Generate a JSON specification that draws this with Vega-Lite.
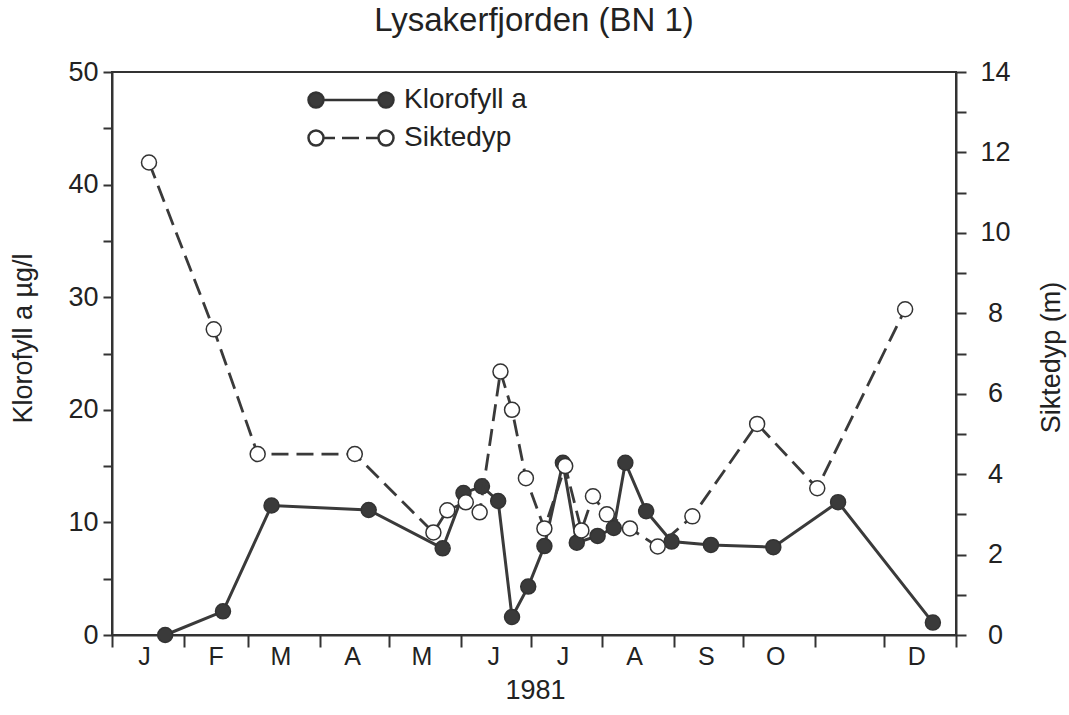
{
  "$schema": "https://vega.github.io/schema/vega-lite/v6.json",
  "autosize": "none",
  "width": 844,
  "height": 563,
  "padding": {"left": 112, "top": 72, "right": 113, "bottom": 80},
  "background": "white",
  "title": {"text": "Lysakerfjorden (BN 1)", "fontSize": 33, "fontWeight": "normal", "color": "#222", "offset": 20, "anchor": "middle"},
  "config": {
    "font": "Liberation Sans",
    "view": {"stroke": "#333", "strokeWidth": 2},
    "axis": {"grid": false, "domainColor": "#333", "domainWidth": 2, "tickColor": "#333", "tickWidth": 2, "labelColor": "#222", "labelFontSize": 27, "titleColor": "#222", "titleFontSize": 27, "titleFontWeight": "normal"}
  },
  "data": {"values": [
    {"date": "1981-01-24", "series": "Klorofyll a", "value": 0.0},
    {"date": "1981-02-18", "series": "Klorofyll a", "value": 2.1},
    {"date": "1981-03-11", "series": "Klorofyll a", "value": 11.5},
    {"date": "1981-04-22", "series": "Klorofyll a", "value": 11.1},
    {"date": "1981-05-24", "series": "Klorofyll a", "value": 7.7},
    {"date": "1981-06-02", "series": "Klorofyll a", "value": 12.6},
    {"date": "1981-06-10", "series": "Klorofyll a", "value": 13.2},
    {"date": "1981-06-17", "series": "Klorofyll a", "value": 11.9},
    {"date": "1981-06-23", "series": "Klorofyll a", "value": 1.6},
    {"date": "1981-06-30", "series": "Klorofyll a", "value": 4.3},
    {"date": "1981-07-07", "series": "Klorofyll a", "value": 7.9},
    {"date": "1981-07-15", "series": "Klorofyll a", "value": 15.3},
    {"date": "1981-07-21", "series": "Klorofyll a", "value": 8.2},
    {"date": "1981-07-30", "series": "Klorofyll a", "value": 8.8},
    {"date": "1981-08-06", "series": "Klorofyll a", "value": 9.5},
    {"date": "1981-08-11", "series": "Klorofyll a", "value": 15.3},
    {"date": "1981-08-20", "series": "Klorofyll a", "value": 11.0},
    {"date": "1981-08-31", "series": "Klorofyll a", "value": 8.3},
    {"date": "1981-09-17", "series": "Klorofyll a", "value": 8.0},
    {"date": "1981-10-14", "series": "Klorofyll a", "value": 7.8},
    {"date": "1981-11-11", "series": "Klorofyll a", "value": 11.8},
    {"date": "1981-12-22", "series": "Klorofyll a", "value": 1.1},
    {"date": "1981-01-17", "series": "Siktedyp", "value": 11.75},
    {"date": "1981-02-14", "series": "Siktedyp", "value": 7.6},
    {"date": "1981-03-05", "series": "Siktedyp", "value": 4.5},
    {"date": "1981-04-16", "series": "Siktedyp", "value": 4.5},
    {"date": "1981-05-20", "series": "Siktedyp", "value": 2.55},
    {"date": "1981-05-26", "series": "Siktedyp", "value": 3.1},
    {"date": "1981-06-03", "series": "Siktedyp", "value": 3.3},
    {"date": "1981-06-09", "series": "Siktedyp", "value": 3.05},
    {"date": "1981-06-18", "series": "Siktedyp", "value": 6.55},
    {"date": "1981-06-23", "series": "Siktedyp", "value": 5.6},
    {"date": "1981-06-29", "series": "Siktedyp", "value": 3.9},
    {"date": "1981-07-07", "series": "Siktedyp", "value": 2.65},
    {"date": "1981-07-16", "series": "Siktedyp", "value": 4.2},
    {"date": "1981-07-23", "series": "Siktedyp", "value": 2.6},
    {"date": "1981-07-28", "series": "Siktedyp", "value": 3.45},
    {"date": "1981-08-03", "series": "Siktedyp", "value": 3.0},
    {"date": "1981-08-13", "series": "Siktedyp", "value": 2.65},
    {"date": "1981-08-25", "series": "Siktedyp", "value": 2.2},
    {"date": "1981-09-09", "series": "Siktedyp", "value": 2.95},
    {"date": "1981-10-07", "series": "Siktedyp", "value": 5.25},
    {"date": "1981-11-02", "series": "Siktedyp", "value": 3.65},
    {"date": "1981-12-10", "series": "Siktedyp", "value": 8.1}
  ]},
  "encoding": {
    "x": {
      "field": "date", "type": "temporal",
      "scale": {"type": "utc", "domain": [{"year": 1981, "month": 1, "date": 1, "utc": true}, {"year": 1982, "month": 1, "date": 1, "utc": true}]},
      "axis": {
        "values": [
          {"year": 1981, "month": 1, "date": 1, "utc": true},
          {"year": 1981, "month": 2, "date": 1, "utc": true},
          {"year": 1981, "month": 3, "date": 1, "utc": true},
          {"year": 1981, "month": 4, "date": 1, "utc": true},
          {"year": 1981, "month": 5, "date": 1, "utc": true},
          {"year": 1981, "month": 6, "date": 1, "utc": true},
          {"year": 1981, "month": 7, "date": 1, "utc": true},
          {"year": 1981, "month": 8, "date": 1, "utc": true},
          {"year": 1981, "month": 9, "date": 1, "utc": true},
          {"year": 1981, "month": 10, "date": 1, "utc": true},
          {"year": 1981, "month": 11, "date": 1, "utc": true},
          {"year": 1981, "month": 12, "date": 1, "utc": true},
          {"year": 1982, "month": 1, "date": 1, "utc": true}
        ],
        "labelExpr": "utcyear(datum.value) > 1981 ? '' : ['J','F','M','A','M','J','J','A','S','O','','D'][utcmonth(datum.value)]",
        "labelOffset": 32, "labelOverlap": false, "labelBound": false, "labelFlush": false,
        "tickSize": 12, "labelPadding": -3, "labelFontSize": 25,
        "title": "1981", "titleX": 423, "titleY": 55, "titleBaseline": "middle", "titleFontSize": 27
      }
    }
  },
  "layer": [
    {
      "transform": [{"filter": "datum.series === 'Klorofyll a'"}],
      "encoding": {
        "y": {"field": "value", "type": "quantitative", "scale": {"domain": [0, 50], "nice": false},
          "axis": {"orient": "left", "values": [0, 5, 10, 15, 20, 25, 30, 35, 40, 45, 50], "labelExpr": "datum.value % 10 === 0 ? datum.label : ''", "tickSize": 9, "labelPadding": 5, "title": "Klorofyll a µg/l", "titleX": -89, "titleY": 266, "titleBaseline": "middle", "titleAngle": 270}}
      },
      "layer": [
        {"mark": {"type": "line", "stroke": "#3a3a3a", "strokeWidth": 3}},
        {"mark": {"type": "circle", "size": 225, "opacity": 1, "fill": "#3a3a3a", "stroke": "#333", "strokeWidth": 1.5}},
        {"mark": {"type": "point", "filled": true, "size": 400, "opacity": 0, "strokeWidth": 2.5},
          "encoding": {
            "shape": {"field": "series", "type": "nominal",
              "scale": {"domain": ["Klorofyll a", "Siktedyp"], "range": [
                "M0.75,0C0.75,0.414,0.414,0.75,0,0.75C-0.414,0.75,-0.75,0.414,-0.75,0C-0.75,-0.414,-0.414,-0.75,0,-0.75C0.414,-0.75,0.75,-0.414,0.75,0ZM7.75,0C7.75,0.414,7.414,0.75,7,0.75C6.586,0.75,6.25,0.414,6.25,0C6.25,-0.414,6.586,-0.75,7,-0.75C7.414,-0.75,7.75,-0.414,7.75,0ZM0.75,0L6.25,0",
                "M0.75,0C0.75,0.414,0.414,0.75,0,0.75C-0.414,0.75,-0.75,0.414,-0.75,0C-0.75,-0.414,-0.414,-0.75,0,-0.75C0.414,-0.75,0.75,-0.414,0.75,0ZM7.75,0C7.75,0.414,7.414,0.75,7,0.75C6.586,0.75,6.25,0.414,6.25,0C6.25,-0.414,6.586,-0.75,7,-0.75C7.414,-0.75,7.75,-0.414,7.75,0ZM0.75,0L1.9,0M2.6,0L4.3,0M5,0L6.25,0"
              ]},
              "legend": {"orient": "none", "legendX": 190, "legendY": 14, "title": null, "padding": 0, "labelFontSize": 28, "labelColor": "#222", "labelOffset": 74, "rowPadding": 10, "symbolSize": 400, "symbolOpacity": 1, "symbolStrokeWidth": 2.5}},
            "fill": {"field": "series", "type": "nominal",
              "scale": {"domain": ["Klorofyll a", "Siktedyp"], "range": ["#3a3a3a", "white"]},
              "legend": {"orient": "none", "legendX": 190, "legendY": 14, "title": null, "padding": 0, "labelFontSize": 28, "labelColor": "#222", "labelOffset": 74, "rowPadding": 10, "symbolSize": 400, "symbolOpacity": 1, "symbolStrokeWidth": 2.5}},
            "stroke": {"field": "series", "type": "nominal",
              "scale": {"domain": ["Klorofyll a", "Siktedyp"], "range": ["#333333", "#333333"]},
              "legend": {"orient": "none", "legendX": 190, "legendY": 14, "title": null, "padding": 0, "labelFontSize": 28, "labelColor": "#222", "labelOffset": 74, "rowPadding": 10, "symbolSize": 400, "symbolOpacity": 1, "symbolStrokeWidth": 2.5}}
          }}
      ]
    },
    {
      "transform": [{"filter": "datum.series === 'Siktedyp'"}],
      "encoding": {
        "y": {"field": "value", "type": "quantitative", "scale": {"domain": [0, 14], "nice": false},
          "axis": {"orient": "right", "values": [0, 1, 2, 3, 4, 5, 6, 7, 8, 9, 10, 11, 12, 13, 14], "labelExpr": "datum.value % 2 === 0 ? datum.label : ''", "tickSize": 10, "labelPadding": 29, "labelAlign": "center", "title": "Siktedyp (m)", "titleX": 95, "titleY": 285, "titleBaseline": "middle", "titleAngle": 270}}
      },
      "layer": [
        {"mark": {"type": "line", "stroke": "#3a3a3a", "strokeWidth": 2.8, "strokeDash": [17, 8]}},
        {"mark": {"type": "circle", "size": 225, "opacity": 1, "fill": "white", "stroke": "#333", "strokeWidth": 1.5}}
      ]
    }
  ],
  "resolve": {"scale": {"y": "independent"}}
}
